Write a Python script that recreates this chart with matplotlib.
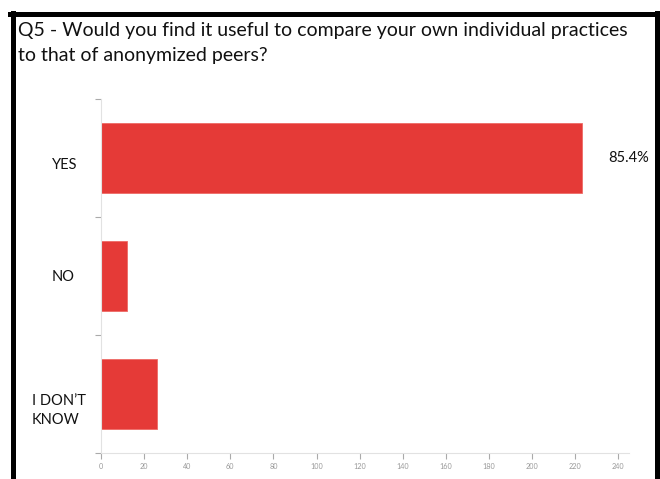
import matplotlib.pyplot as plt
from matplotlib.lines import Line2D


categories = ["YES", "NO", "I DON\u2019T\nKNOW"]
counts = [223, 12, 26]
x_ticks = list(range(0, 241, 20))
title = "Q5 - Would you find it useful to compare your own individual practices\nto that of anonymized peers?"

W, H = 660, 479
BAR_COLOR = "#e53a37"


def fx(px):
    return px / W


def fy(py):
    return 1 - py / H


def main():
    plt.rcParams["font.family"] = ["Lato", "DejaVu Sans"]

    fig = plt.figure(figsize=(W / 100, H / 100), dpi=100)

    # black frame around the slide (open at the bottom)
    lw = 3.6
    fig.add_artist(Line2D([fx(12.5), fx(12.5)], [fy(13), fy(480)], color="black", lw=lw))
    fig.add_artist(Line2D([fx(10), fx(659)], [fy(14), fy(14)], color="black", lw=lw))
    fig.add_artist(Line2D([fx(657), fx(657)], [fy(13), fy(480)], color="black", lw=lw))

    fig.text(fx(18), fy(22), title, ha="left", va="top", fontsize=14.0,
             linespacing=1.6, color="#111111")

    ax = fig.add_axes([fx(101), fy(453), fx(629) - fx(101), fy(99) - fy(453)])

    y = list(range(len(categories)))
    ax.barh(y, counts, height=0.6, color=BAR_COLOR, edgecolor="#ee6a66", linewidth=0.6)

    ax.set_xlim(0, 245)
    ax.set_ylim(2.5, -0.5)
    ax.set_xticks(x_ticks)
    ax.set_xticklabels([str(t) for t in x_ticks])
    ax.set_yticks([-0.5, 0.5, 1.5, 2.5])
    ax.set_yticklabels([])

    for side in ["top", "right"]:
        ax.spines[side].set_visible(False)
    ax.spines["left"].set_color("#e2e2e2")
    ax.spines["bottom"].set_color("#e2e2e2")

    ax.tick_params(axis="x", length=4, width=0.8, color="#aaaaaa",
                   labelsize=5.2, labelcolor="#999999", pad=3)
    ax.tick_params(axis="y", length=4, width=0.8, color="#aaaaaa")

    label_x = [-0.068, -0.072, -0.080]
    label_offsets = [0.06, 0.01, 0.14]
    for i, name in enumerate(categories):
        ax.text(label_x[i], i + label_offsets[i], name, transform=ax.get_yaxis_transform(),
                ha="center", va="center", fontsize=10.5, multialignment="left",
                linespacing=1.45, color="#111111")

    total = sum(counts)
    pct = counts[0] / total * 100
    ax.annotate(f"{pct:.1f}%", xy=(counts[0], 0), xytext=(19, 0),
                textcoords="offset points", ha="left", va="center",
                fontsize=10.5, color="#111111")

    fig.savefig("out.png", dpi=100)
    plt.close(fig)


if __name__ == "__main__":
    main()
